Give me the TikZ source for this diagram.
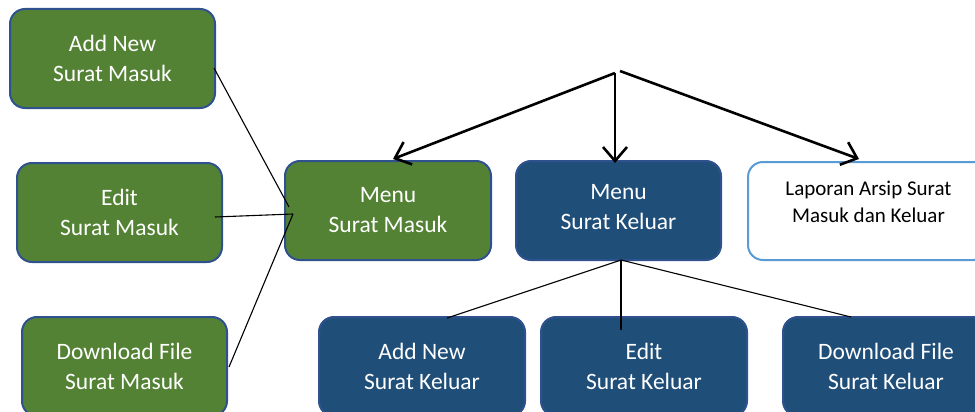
\documentclass[tikz,border=0pt]{standalone}
\usepackage{fontspec}
\setmainfont{Carlito}
\usetikzlibrary{arrows.meta}
\definecolor{gfill}{HTML}{548235}
\definecolor{bfill}{HTML}{1F4E79}
\definecolor{edge}{HTML}{2F528F}
\definecolor{lblue}{HTML}{5B9BD5}
\tikzset{
  box/.style={draw=edge, line width=2pt, rounded corners=15pt, text=white,
    inner sep=0pt, align=center, minimum width=205pt, minimum height=99pt,
    font=\fontsize{23.5}{30}\selectfont},
  gbox/.style={box, fill=gfill},
  bbox/.style={box, fill=bfill},
  wbox/.style={draw=lblue, line width=2pt, rounded corners=15pt, fill=white, text=black,
    inner sep=0pt, align=center, minimum width=241pt, minimum height=98pt,
    font=\fontsize{21}{27}\selectfont},
  thin/.style={draw=black, line width=1.1pt},
  bigarrow/.style={draw=black, line width=2.6pt, -{Straight Barb[length=14pt, width=24pt, line width=2.6pt]}}
}
\begin{document}
\begin{tikzpicture}[x=1pt, y=-1pt]
\useasboundingbox (0,0) rectangle (975,412);
\node[gbox] (asm) at (112.5,58.5) {Add New\\Surat Masuk};
\node[gbox] (esm) at (119.5,212.5) {Edit\\Surat Masuk};
\node[gbox] (dsm) at (124.5,366.5) {Download File\\Surat Masuk};
\node[gbox, minimum width=206pt] (msm) at (388,210.5) {Menu\\Surat Masuk};
\node[bbox] (msk) at (618.5,210.5) {\begin{tabular}{@{}c@{}}Menu\\Surat Keluar\\[5pt]\end{tabular}};
\node[wbox] (lap) at (868.5,211) {\begin{tabular}{@{}c@{}}Laporan Arsip Surat\\Masuk dan Keluar\\[14pt]\end{tabular}};
\node[bbox, minimum width=206pt] (ask) at (422,366.5) {Add New\\Surat Keluar};
\node[bbox, minimum width=206pt] (ekk) at (644,366.5) {Edit\\Surat Keluar};
\node[bbox, minimum width=206pt] (dsk) at (886,366.5) {Download File\\Surat Keluar};
% connector points
\coordinate (top) at (615,73);
\coordinate (topr) at (620,71);
\coordinate (tl) at (393,159);
\coordinate (tm) at (615,163);
\coordinate (tr) at (859,159);
\coordinate (a1) at (214,68);
\coordinate (a1e) at (289,207);
\coordinate (a2) at (215,217);
\coordinate (a2e) at (293,214);
\coordinate (a3) at (229,367);
\coordinate (b0) at (621,260);
\coordinate (b1) at (447,318);
\coordinate (b2) at (621,330);
\coordinate (b3) at (851,317);
% arrows
\draw[bigarrow] (top) -- (tl);
\draw[bigarrow] (top) -- (tm);
\draw[bigarrow] (topr) -- (tr);
% thin connectors
\draw[thin] (a1) -- (a1e);
\draw[thin] (a2) -- (a2e);
\draw[thin] (a3) -- (a2e);
\draw[thin] (b0) -- (b1);
\draw[thin] (b0) -- (b2);
\draw[thin] (b0) -- (b3);
\end{tikzpicture}
\end{document}
